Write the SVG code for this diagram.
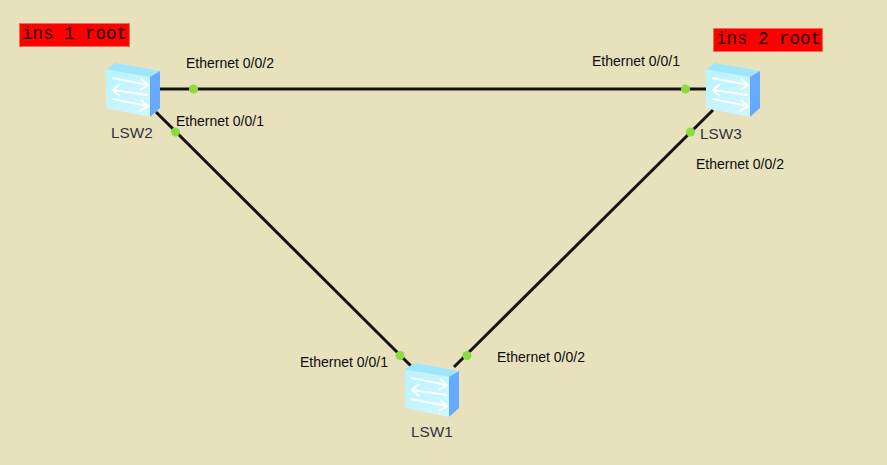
<svg xmlns="http://www.w3.org/2000/svg" width="887" height="465" viewBox="0 0 887 465">
<style>
.p{font:14px "Liberation Sans",Arial,sans-serif;fill:#0c0c0c}
.n{font:15.300px "Liberation Sans",Arial,sans-serif;fill:#33333f}
.r{font:17.500px "Liberation Mono","Courier New",monospace;fill:#1a0000}
.l{stroke:#141414;stroke-width:3;fill:none}
.d{fill:#8adc40}
.a{fill:none;stroke:#fff;stroke-width:2;opacity:.95}
</style>
<defs>
<linearGradient id="f" x1="0" y1="0" x2="1" y2="1"><stop offset="0" stop-color="#b9f2ff"/><stop offset="1" stop-color="#d2f8fd"/></linearGradient>
<g id="sw">
<polygon points="0,6.5 9,0 54,8 44,14" fill="#9ce6ff"/>
<polygon points="0,6.5 44,14 44,54 0,45" fill="url(#f)"/>
<polygon points="44,14 54,8 54,45 44,54" fill="#66aaff"/>
<path class="a" d="M6,15 L42,22 M35,16 L42,22 L34,27 M42,32 L7,27 M14,21 L7,27 L14,33 M6,36 L42,43 M35,37 L42,43 L34,48"/>
</g>
</defs>
<rect width="887" height="465" fill="#e8e2bc"/>
<g id="connectors">
<line class="l" x1="160" y1="89" x2="706" y2="89"/>
<line class="l" x1="156" y1="112" x2="411" y2="366"/>
<line class="l" x1="713" y1="110" x2="454" y2="367"/>
<circle class="d" cx="193.500" cy="89" r="4.500"/>
<circle class="d" cx="685.500" cy="89" r="4.500"/>
<circle class="d" cx="175.500" cy="132" r="4.500"/>
<circle class="d" cx="690.500" cy="132" r="4.500"/>
<circle class="d" cx="400" cy="355.500" r="4.500"/>
<circle class="d" cx="467" cy="355.500" r="4.500"/>
</g>
<g id="LSW2"><use href="#sw" x="106" y="63"/><text class="n" x="111" y="137.500">LSW2</text></g>
<g id="LSW3"><use href="#sw" x="706" y="63"/><text class="n" x="700" y="138.500">LSW3</text></g>
<g id="LSW1"><use href="#sw" x="405" y="363"/><text class="n" x="411" y="436.500">LSW1</text></g>
<g id="labels">
<text class="p" x="186" y="67.500">Ethernet 0/0/2</text>
<text class="p" x="176" y="125.500">Ethernet 0/0/1</text>
<text class="p" x="592" y="65.500">Ethernet 0/0/1</text>
<text class="p" x="696" y="168.500">Ethernet 0/0/2</text>
<text class="p" x="300" y="366.500">Ethernet 0/0/1</text>
<text class="p" x="497" y="361.500">Ethernet 0/0/2</text>
</g>
<g id="root1"><rect x="19.500" y="23.500" width="110" height="23" fill="#ff0000" stroke="#f06a5a"/><text class="r" x="22" y="39">ins 1 root</text></g>
<g id="root2"><rect x="713.500" y="28.500" width="109" height="23" fill="#ff0000" stroke="#f06a5a"/><text class="r" x="716" y="44">ins 2 root</text></g>
</svg>
